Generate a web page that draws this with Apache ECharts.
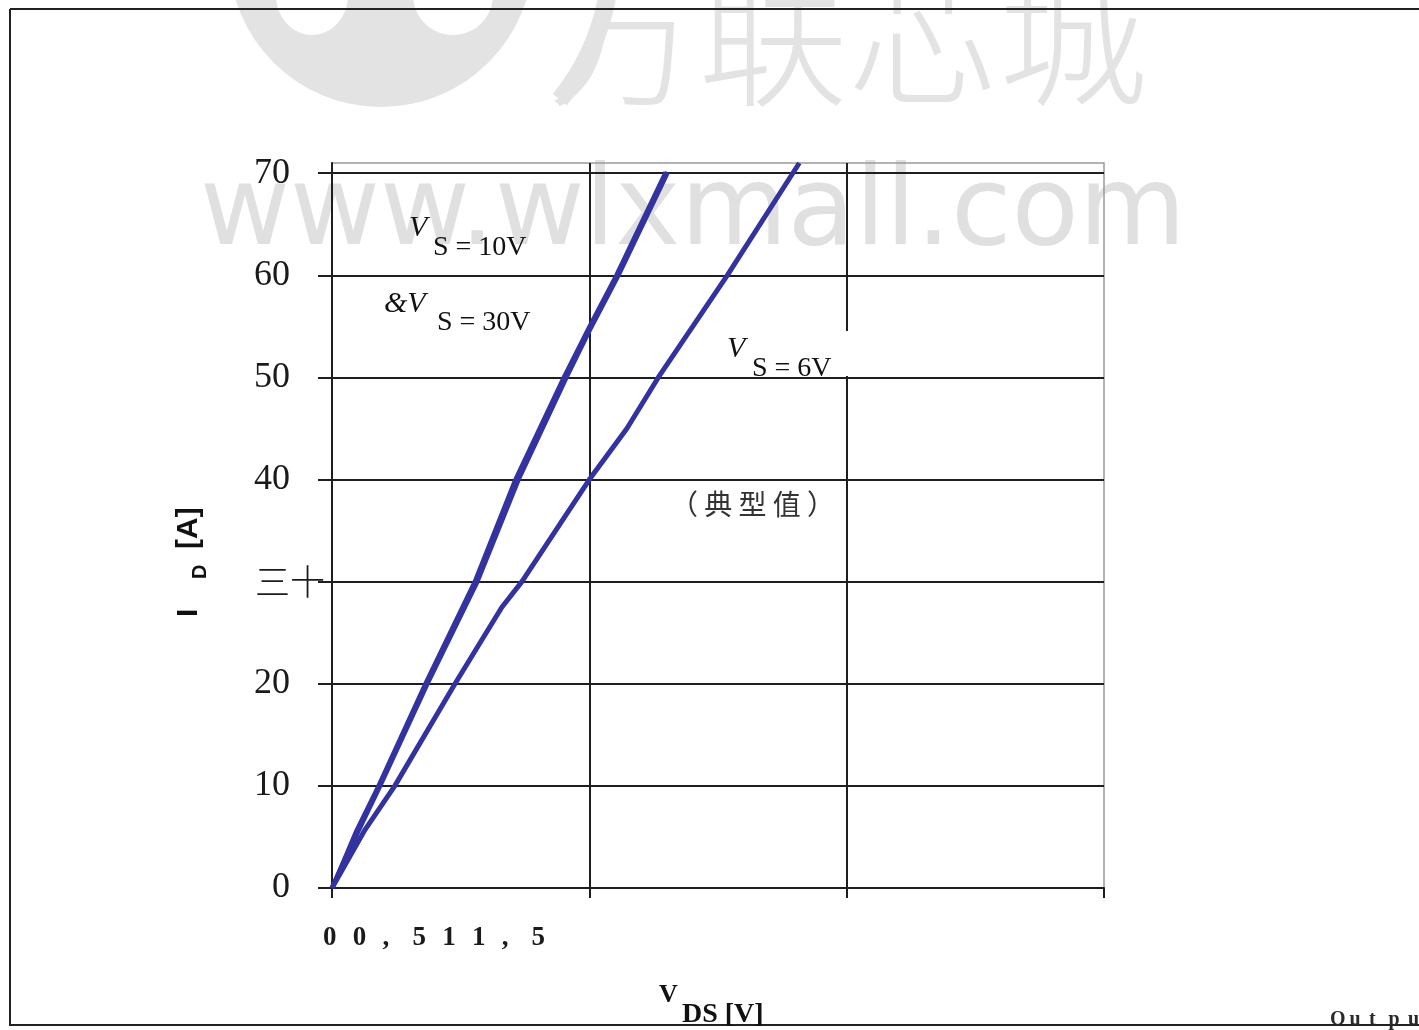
<!DOCTYPE html>
<html>
<head>
<meta charset="utf-8">
<title>Output characteristics</title>
<script src="https://cdn.jsdelivr.net/npm/echarts@6/dist/echarts.min.js"></script>
<style>
  html, body { margin: 0; padding: 0; background: #fff; }
  #chart { width: 1419px; height: 1030px; }
</style>
</head>
<body>
<div id="chart"></div>
<script>
// V_DS [V] / I_D [A] pairs
const vgs10 = [[0, 0], [0.05, 5.5], [0.093, 10], [0.185, 20], [0.282, 30], [0.362, 40], [0.455, 50], [0.5, 54.6], [0.556, 60], [0.652, 70.1]]
const vgs30 = [[0, 0], [0.047, 5.6], [0.09, 10], [0.181, 20], [0.277, 30], [0.356, 40], [0.45, 50], [0.5, 55], [0.552, 60], [0.648, 70.1]]
const vgs6 = [[0, 0], [0.064, 5.7], [0.122, 10], [0.239, 20], [0.33, 27.5], [0.369, 30], [0.5, 40], [0.573, 45], [0.634, 50], [0.768, 60], [0.908, 71]]

const yTickValues = [0, 10, 20, 30, 40, 50, 60, 70]
const yTickLabels = ['0', '10', '20', '三十', '40', '50', '60', '70']
const xTickValues = [0, 0.5, 1, 1.5]
const xTickText = '0 0 , 5 1 1 , 5'

const lineColor = '#3232a0'
const gridColor = '#1e1e1e'
const wmColor = '#e3e3e3'

const chart = echarts.init(document.getElementById('chart'))

// the x tick text is spread in even cells, one glyph per cell
const xTickGlyphs = xTickText.split(' ').map(function (ch, i) {
  return { type: 'text', z: 10, x: 323 + i * 29.8, y: 925, style: { text: ch, font: 'bold 27px "Liberation Serif"', fill: '#1a1a1a' } }
})
const footGlyphs = 'Output'.split('').map(function (ch, i) {
  return { type: 'text', z: 10, x: 1330 + i * 19.5, y: 1010, style: { text: ch, font: 'bold 20px "Liberation Serif"', fill: '#2a2a2a' } }
})

const option = {
  backgroundColor: '#fff',
  animation: false,
  grid: {
    left: 332,
    right: 315,
    top: 163,
    bottom: 142,
    show: true,
    borderColor: '#9a9a9a',
    borderWidth: 1.5
  },
  xAxis: {
    type: 'value',
    min: 0,
    max: 1.5,
    interval: 0.5,
    z: 2,
    axisLine: { show: true, onZero: false, lineStyle: { color: gridColor, width: 2 } },
    axisTick: { show: true, length: 10, lineStyle: { color: gridColor, width: 2 }, customValues: xTickValues },
    axisLabel: { show: false },
    splitLine: { show: true, showMaxLine: false, lineStyle: { color: gridColor, width: 2 } }
  },
  yAxis: {
    type: 'value',
    min: 0,
    max: 71,
    interval: 10,
    z: 2,
    axisLine: { show: true, lineStyle: { color: gridColor, width: 2 } },
    axisTick: { show: true, length: 14, lineStyle: { color: gridColor, width: 2 }, customValues: yTickValues },
    axisLabel: {
      customValues: yTickValues,
      margin: 7,
      formatter: function (v) {
        const s = yTickLabels[yTickValues.indexOf(v)]
        if (s === undefined) return ''
        return s === '三十' ? '{cjk|' + s + '}' : '{num|' + s + '}'
      },
      rich: {
        num: { fontFamily: 'Liberation Serif', fontSize: 36, color: '#1a1a1a', padding: [0, 35, 0, 0] },
        cjk: { fontFamily: 'Noto Sans CJK SC', fontWeight: 300, fontSize: 35, color: '#1a1a1a' }
      }
    },
    splitLine: { show: true, showMaxLine: true, lineStyle: { color: gridColor, width: 2 } }
  },
  series: [
    { name: 'VGS = 10V', type: 'line', data: vgs10, showSymbol: false, z: 5, lineStyle: { color: lineColor, width: 5 } },
    { name: 'VGS = 30V', type: 'line', data: vgs30, showSymbol: false, z: 5, lineStyle: { color: lineColor, width: 4 } },
    { name: 'VGS = 6V', type: 'line', data: vgs6, showSymbol: false, z: 5, lineStyle: { color: lineColor, width: 5 } }
  ],
  graphic: [
    // page frame
    { type: 'line', z: -5, shape: { x1: 10, y1: 9, x2: 1419, y2: 9 }, style: { stroke: '#222', lineWidth: 2 } },
    { type: 'line', z: -5, shape: { x1: 10, y1: 9, x2: 10, y2: 1026 }, style: { stroke: '#222', lineWidth: 2 } },
    { type: 'line', z: -5, shape: { x1: 10, y1: 1025, x2: 1419, y2: 1025 }, style: { stroke: '#222', lineWidth: 2 } },
    // watermark
    { type: 'circle', z: -6, shape: { cx: 381, cy: -45, r: 152 }, style: { fill: wmColor } },
    { type: 'ellipse', z: -6, shape: { cx: 312, cy: -5, rx: 36, ry: 40 }, style: { fill: '#fff' } },
    { type: 'ellipse', z: -6, shape: { cx: 453, cy: -5, rx: 40, ry: 40 }, style: { fill: '#fff' } },
    { type: 'arc', z: -6, shape: { cx: 381, cy: -45, r: 230, startAngle: -0.3, endAngle: 0.68, clockwise: true }, style: { stroke: wmColor, lineWidth: 18, fill: null } },
    { type: 'text', z: -6, x: 548, y: 112, style: { text: '万联芯城', font: '300 150px "Noto Sans CJK SC"', fill: wmColor, textVerticalAlign: 'bottom' } },
    { type: 'text', z: -6, x: 200, y: 270, style: { text: 'www.wlxmall.com', font: '110px "DejaVu Sans"', fill: '#e0e0e0', textVerticalAlign: 'bottom' } },
    // curve labels
    { type: 'text', z: 10, x: 409, y: 213, style: { text: 'V', font: 'italic 30px "Liberation Serif"', fill: '#111' } },
    { type: 'text', z: 10, x: 433, y: 234, style: { text: 'S = 10V', font: '28px "Liberation Serif"', fill: '#111' } },
    { type: 'text', z: 10, x: 384, y: 289, style: { text: '&V', font: 'italic 30px "Liberation Serif"', fill: '#111' } },
    { type: 'text', z: 10, x: 437, y: 309, style: { text: 'S = 30V', font: '28px "Liberation Serif"', fill: '#111' } },
    { type: 'rect', z: 3, shape: { x: 722, y: 331, width: 128, height: 45 }, style: { fill: '#fff' } },
    { type: 'text', z: 3, x: 727, y: 334, style: { text: 'V', font: 'italic 30px "Liberation Serif"', fill: '#111' } },
    { type: 'text', z: 3, x: 752, y: 355, style: { text: 'S = 6V', font: '28px "Liberation Serif"', fill: '#111' } },
    { type: 'text', z: 10, x: 670, y: 490, style: { text: '（ 典 型 值 ）', font: '28px "Noto Sans CJK SC"', fill: '#333' } },
    // axis titles
    { type: 'text', z: 10, x: 659, y: 982, style: { text: 'V', font: 'bold 26px "Liberation Serif"', fill: '#111' } },
    { type: 'text', z: 10, x: 682, y: 1001, style: { text: 'DS [V]', font: 'bold 28px "Liberation Serif"', fill: '#111' } },
    { type: 'text', z: 10, x: 174, y: 617, rotation: Math.PI / 2, style: { text: 'I', font: 'bold 30px "Liberation Sans"', fill: '#111' } },
    { type: 'text', z: 10, x: 190, y: 579, rotation: Math.PI / 2, style: { text: 'D', font: 'bold 20px "Liberation Sans"', fill: '#111' } },
    { type: 'text', z: 10, x: 174, y: 549, rotation: Math.PI / 2, style: { text: '[A]', font: 'bold 30px "Liberation Sans"', fill: '#111' } }
  ].concat(xTickGlyphs, footGlyphs)
}

chart.setOption(option)
</script>
</body>
</html>
